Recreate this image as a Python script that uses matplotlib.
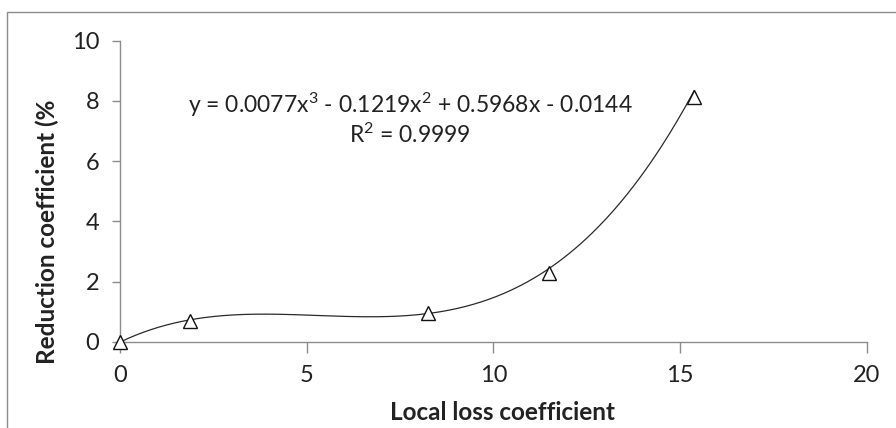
import numpy as np
import matplotlib
matplotlib.use("Agg")
import matplotlib.pyplot as plt
from matplotlib.patches import Rectangle

plt.rcParams['font.family'] = ['Lato', 'DejaVu Sans']
plt.rcParams['mathtext.fontset'] = 'custom'
plt.rcParams['mathtext.rm'] = 'Lato'
plt.rcParams['mathtext.it'] = 'Lato:italic'
plt.rcParams['mathtext.bf'] = 'Lato:bold'

# Measured points
local_loss = [0.0, 1.88, 8.24, 11.49, 15.38]
reduction = [0.0, 0.70, 0.94, 2.29, 8.12]

# Cubic trendline coefficients (highest power first)
trend_coef = [0.0077, -0.1219, 0.5968, -0.0144]
r_squared = 0.9999

x_ticks = [0, 5, 10, 15, 20]
y_ticks = [0, 2, 4, 6, 8, 10]

fig = plt.figure(figsize=(8.96, 4.28), dpi=100)
fig.patch.set_facecolor('white')

# outer chart frame
fig.patches.append(Rectangle((7 / 896, -0.05), 1.0, 1 - 12 / 428 + 0.05,
                             transform=fig.transFigure, fill=False,
                             edgecolor='#8c8c8c', linewidth=1.0))

ax = fig.add_axes([120 / 896, 1 - 341.7 / 428, (866.7 - 120) / 896, (341.7 - 40.7) / 428])

xs = np.linspace(0, local_loss[-1], 300)
ax.plot(xs, np.polyval(trend_coef, xs), color='#2a2a2a', linewidth=0.9, zorder=2)
ax.plot(local_loss, reduction, linestyle='none', marker='^', markersize=10,
        markerfacecolor='white', markeredgecolor='#111111', markeredgewidth=1.0,
        zorder=3, clip_on=False)

ax.set_xlim(0, 20)
ax.set_ylim(0, 10)
ax.set_xticks(x_ticks)
ax.set_yticks(y_ticks)
ax.set_xticklabels([str(v) for v in x_ticks])
ax.set_yticklabels([str(v) for v in y_ticks])

for side in ('top', 'right'):
    ax.spines[side].set_visible(False)
for side in ('left', 'bottom'):
    ax.spines[side].set_color('#8c8c8c')
    ax.spines[side].set_linewidth(1.0)

ax.tick_params(axis='x', direction='out', length=8, width=1, color='#8c8c8c',
               labelsize=17, pad=9, labelcolor='#222222')
ax.tick_params(axis='y', direction='out', length=6, width=1, color='#8c8c8c',
               labelsize=17, pad=9, labelcolor='#222222')

eq = (r"y = {:.4f}x$^{{\mathrm{{3}}}}$ - {:.4f}x$^{{\mathrm{{2}}}}$ + {:.4f}x - {:.4f}"
      .format(trend_coef[0], -trend_coef[1], trend_coef[2], -trend_coef[3]))
r2 = r"R$^{{\mathrm{{2}}}}$ = {:.4f}".format(r_squared)
ax.text(7.77, 7.86, eq, ha='center', va='center', fontsize=16.5, color='#222222')
ax.text(7.77, 6.88, r2, ha='center', va='center', fontsize=16.5, color='#222222')

fig.text(502 / 896, 1 - 413 / 428, "Local loss coefficient", ha='center', va='center',
         fontsize=17.5, fontweight='bold', color='#222222')
fig.text(47 / 896, 1 - 232 / 428, "Reduction coefficient (%", ha='center', va='center',
         rotation=90, fontsize=17.5, fontweight='bold', color='#222222')

fig.savefig('out.png', dpi=100)
